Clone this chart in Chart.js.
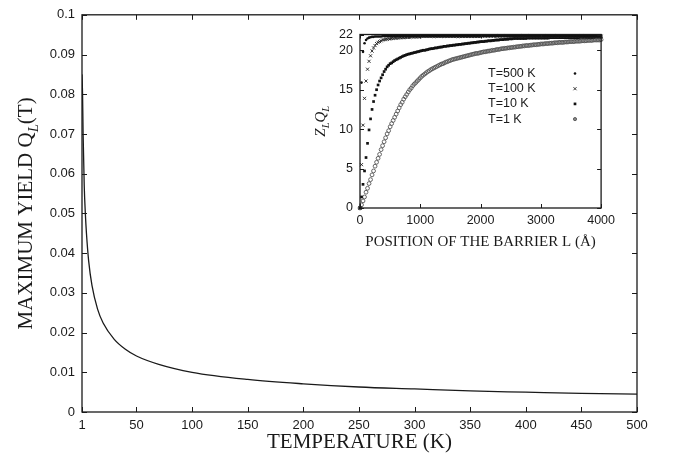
<!DOCTYPE html>
<html>
<head>
<meta charset="utf-8">
<script src="https://cdn.jsdelivr.net/npm/chart.js@4.4.0/dist/chart.umd.min.js"></script>
<style>
    html, body { margin: 0; padding: 0; background: #fff; }
    #wrap { position: relative; width: 675px; height: 457px; }
    #mainChart { position: absolute; left: 0; top: 0; }
    #insetChart { position: absolute; left: 300px; top: 20px; }
</style>
</head>
<body>
<div id="wrap">
    <canvas id="mainChart" width="675" height="457"></canvas>
    <canvas id="insetChart" width="320" height="240"></canvas>
</div>
<script>
// Curva principal: rendimento máximo em função da temperatura
const temperature = [1, 1.5, 2, 3, 4, 5, 7, 10, 15, 20, 30, 40, 50, 70, 100, 150, 200, 250, 300, 350, 400, 450, 500];
const maxYield = [0.085, 0.08, 0.07, 0.057, 0.05, 0.045, 0.038, 0.0318, 0.0259, 0.0224, 0.0183, 0.0158, 0.0141, 0.012,
    0.01, 0.0082, 0.0071, 0.0063, 0.0058, 0.0053, 0.005, 0.0047, 0.0045];
const tempTicks = [1, 50, 100, 150, 200, 250, 300, 350, 400, 450, 500];
const yieldTicks = [0, 0.01, 0.02, 0.03, 0.04, 0.05, 0.06, 0.07, 0.08, 0.09, 0.1];

// Gráfico inserido: Z_L Q_L em função da posição da barreira L (passo de 25 Å)
const insetLabels = ['T=500 K', 'T=100 K', 'T=10 K', 'T=1 K'];
const positionTicks = [0, 1000, 2000, 3000, 4000];
const zqTicks = [0, 5, 10, 15, 20, 22];
const positionL = [];
for (let L = 0; L <= 4000; L += 25) positionL.push(L);

const zq500K = [0,
    15.9, 19.8, 20.9, 21.3, 21.5, 21.6, 21.65, 21.7, 21.7, 21.75, 21.75, 21.75, 21.75, 21.75, 21.8, 21.8, 21.8, 21.8, 21.8, 21.8,
    21.8, 21.8, 21.8, 21.8, 21.8, 21.8, 21.8, 21.8, 21.8, 21.8, 21.8, 21.8, 21.8, 21.8, 21.8, 21.8, 21.8, 21.8, 21.8, 21.8,
    21.85, 21.85, 21.85, 21.85, 21.85, 21.85, 21.85, 21.85, 21.85, 21.85, 21.85, 21.85, 21.85, 21.85, 21.85, 21.85, 21.85, 21.85, 21.85, 21.85,
    21.85, 21.85, 21.85, 21.85, 21.85, 21.85, 21.85, 21.85, 21.85, 21.85, 21.85, 21.85, 21.85, 21.85, 21.85, 21.85, 21.85, 21.85, 21.85, 21.85,
    21.85, 21.85, 21.85, 21.85, 21.85, 21.85, 21.85, 21.85, 21.85, 21.85, 21.85, 21.85, 21.85, 21.85, 21.85, 21.85, 21.85, 21.85, 21.85, 21.85,
    21.85, 21.85, 21.85, 21.85, 21.85, 21.85, 21.85, 21.85, 21.85, 21.85, 21.85, 21.85, 21.85, 21.85, 21.85, 21.85, 21.85, 21.85, 21.85, 21.85,
    21.85, 21.85, 21.85, 21.85, 21.85, 21.85, 21.85, 21.85, 21.85, 21.85, 21.85, 21.85, 21.85, 21.85, 21.85, 21.85, 21.85, 21.85, 21.85, 21.85,
    21.85, 21.85, 21.85, 21.85, 21.85, 21.85, 21.85, 21.85, 21.85, 21.85, 21.85, 21.85, 21.85, 21.85, 21.85, 21.85, 21.85, 21.85, 21.85, 21.85];

const zq100K = [0,
    5.5, 10.5, 13.9, 16.1, 17.6, 18.6, 19.3, 19.9, 20.3, 20.6, 20.85, 21.0, 21.1, 21.2, 21.3, 21.35, 21.4, 21.4, 21.45, 21.45,
    21.5, 21.5, 21.55, 21.55, 21.55, 21.6, 21.6, 21.6, 21.6, 21.65, 21.65, 21.65, 21.65, 21.7, 21.7, 21.7, 21.7, 21.7, 21.7, 21.75,
    21.75, 21.75, 21.75, 21.75, 21.75, 21.75, 21.75, 21.75, 21.75, 21.75, 21.75, 21.75, 21.75, 21.75, 21.75, 21.75, 21.75, 21.75, 21.75, 21.75,
    21.75, 21.75, 21.75, 21.75, 21.75, 21.75, 21.75, 21.75, 21.75, 21.75, 21.75, 21.75, 21.75, 21.75, 21.75, 21.75, 21.75, 21.75, 21.75, 21.75,
    21.8, 21.8, 21.8, 21.8, 21.8, 21.8, 21.8, 21.8, 21.8, 21.8, 21.8, 21.8, 21.8, 21.8, 21.8, 21.8, 21.8, 21.8, 21.8, 21.8,
    21.8, 21.8, 21.8, 21.8, 21.8, 21.8, 21.8, 21.8, 21.8, 21.8, 21.8, 21.8, 21.8, 21.8, 21.8, 21.8, 21.8, 21.8, 21.8, 21.8,
    21.8, 21.8, 21.8, 21.8, 21.8, 21.8, 21.8, 21.8, 21.8, 21.8, 21.8, 21.8, 21.8, 21.8, 21.8, 21.8, 21.8, 21.8, 21.8, 21.8,
    21.8, 21.8, 21.8, 21.8, 21.8, 21.8, 21.8, 21.8, 21.8, 21.8, 21.8, 21.8, 21.8, 21.8, 21.8, 21.8, 21.8, 21.8, 21.8, 21.8];

const zq10K = [0,
    1.4, 3.0, 4.7, 6.4, 8.2, 9.9, 11.3, 12.5, 13.5, 14.3, 15.0, 15.6, 16.1, 16.5, 16.9, 17.3, 17.6, 17.9, 18.1, 18.3,
    18.4, 18.55, 18.7, 18.8, 18.9, 19.0, 19.1, 19.2, 19.3, 19.35, 19.45, 19.5, 19.55, 19.6, 19.65, 19.7, 19.75, 19.8, 19.85, 19.9,
    19.95, 20.0, 20.0, 20.05, 20.1, 20.15, 20.2, 20.2, 20.25, 20.3, 20.3, 20.35, 20.4, 20.4, 20.45, 20.5, 20.5, 20.55, 20.55, 20.6,
    20.6, 20.65, 20.65, 20.7, 20.7, 20.75, 20.75, 20.8, 20.8, 20.85, 20.85, 20.9, 20.9, 20.95, 20.95, 21.0, 21.0, 21.05, 21.05, 21.1,
    21.1, 21.1, 21.15, 21.15, 21.2, 21.2, 21.2, 21.25, 21.25, 21.3, 21.3, 21.3, 21.35, 21.35, 21.35, 21.4, 21.4, 21.4, 21.45, 21.45,
    21.45, 21.5, 21.5, 21.5, 21.5, 21.5, 21.5, 21.5, 21.5, 21.5, 21.55, 21.55, 21.55, 21.55, 21.55, 21.55, 21.55, 21.55, 21.55, 21.55,
    21.55, 21.55, 21.55, 21.55, 21.55, 21.6, 21.6, 21.6, 21.6, 21.6, 21.6, 21.6, 21.6, 21.6, 21.6, 21.6, 21.6, 21.6, 21.6, 21.6,
    21.6, 21.6, 21.6, 21.6, 21.6, 21.65, 21.65, 21.65, 21.65, 21.65, 21.65, 21.65, 21.65, 21.65, 21.65, 21.7, 21.7, 21.7, 21.7, 21.7];

const zq1K = [0,
    0.4, 0.9, 1.4, 2.0, 2.5, 3.1, 3.6, 4.2, 4.7, 5.3, 5.8, 6.3, 6.8, 7.4, 7.9, 8.4, 8.9, 9.4, 9.8, 10.3,
    10.7, 11.1, 11.5, 11.9, 12.3, 12.7, 13.1, 13.4, 13.8, 14.1, 14.4, 14.7, 15.0, 15.2, 15.5, 15.7, 15.9, 16.1, 16.3, 16.5,
    16.7, 16.85, 17.0, 17.15, 17.3, 17.4, 17.55, 17.65, 17.75, 17.85, 17.95, 18.05, 18.15, 18.25, 18.3, 18.4, 18.5, 18.55, 18.65, 18.7,
    18.8, 18.85, 18.9, 18.95, 19.0, 19.05, 19.1, 19.15, 19.2, 19.25, 19.3, 19.35, 19.4, 19.45, 19.5, 19.55, 19.6, 19.6, 19.65, 19.7,
    19.75, 19.8, 19.8, 19.85, 19.9, 19.9, 19.95, 20.0, 20.0, 20.05, 20.1, 20.1, 20.15, 20.2, 20.2, 20.25, 20.25, 20.3, 20.3, 20.35,
    20.35, 20.4, 20.4, 20.45, 20.45, 20.5, 20.5, 20.55, 20.55, 20.6, 20.6, 20.6, 20.65, 20.65, 20.7, 20.7, 20.7, 20.75, 20.75, 20.8,
    20.8, 20.8, 20.85, 20.85, 20.85, 20.9, 20.9, 20.9, 20.95, 20.95, 20.95, 21.0, 21.0, 21.0, 21.0, 21.05, 21.05, 21.05, 21.1, 21.1,
    21.1, 21.1, 21.15, 21.15, 21.15, 21.15, 21.2, 21.2, 21.2, 21.2, 21.25, 21.25, 21.25, 21.25, 21.3, 21.3, 21.3, 21.3, 21.3, 21.35];

const SANS = '"Liberation Sans", Arial, sans-serif';
const SERIF = '"Liberation Serif", "Times New Roman", serif';
const INK = '#1a1a1a';

// Moldura com marcas de escala para dentro (estilo gnuplot), também no topo e à direita
function frameTicks(len) {
    return {
        id: 'frameTicks',
        afterDatasetsDraw(chart) {
            const { ctx, chartArea: a, scales: { x, y } } = chart;
            ctx.save();
            ctx.strokeStyle = INK;
            ctx.lineWidth = 1;
            ctx.beginPath();
            x.ticks.forEach(t => {
                const px = Math.round(x.getPixelForValue(t.value)) + 0.5;
                ctx.moveTo(px, a.bottom); ctx.lineTo(px, a.bottom - len);
                ctx.moveTo(px, a.top); ctx.lineTo(px, a.top + len);
            });
            y.ticks.forEach(t => {
                const py = Math.round(y.getPixelForValue(t.value)) + 0.5;
                ctx.moveTo(a.left, py); ctx.lineTo(a.left + len, py);
                ctx.moveTo(a.right, py); ctx.lineTo(a.right - len, py);
            });
            ctx.stroke();
            ctx.lineWidth = 1.3;
            ctx.strokeRect(a.left, a.top, a.right - a.left, a.bottom - a.top);
            ctx.restore();
        }
    };
}

// Desenha texto com subscritos/itálico, centrado em (x, y)
function drawRich(ctx, parts, x, y, rotate, size) {
    const fontFor = p => `${p.italic ? 'italic ' : ''}${p.sub ? size * 0.7 : size}px ${SERIF}`;
    ctx.save();
    ctx.translate(x, y);
    if (rotate) ctx.rotate(-Math.PI / 2);
    ctx.fillStyle = INK;
    ctx.textBaseline = 'alphabetic';
    let total = 0;
    parts.forEach(p => { ctx.font = fontFor(p); total += ctx.measureText(p.text).width; });
    let cx = -total / 2;
    parts.forEach(p => {
        ctx.font = fontFor(p);
        ctx.fillText(p.text, cx, p.sub ? size * 0.28 : 0);
        cx += ctx.measureText(p.text).width;
    });
    ctx.restore();
}

function axisTitles(spec) {
    return {
        id: 'axisTitles',
        afterDraw(chart) {
            const a = chart.chartArea;
            drawRich(chart.ctx, spec.x, (a.left + a.right) / 2, spec.xBase, false, spec.size);
            drawRich(chart.ctx, spec.y, spec.yBase, (a.top + a.bottom) / 2, true, spec.size);
        }
    };
}

function tickFont(size) {
    return { color: INK, font: { family: SANS, size: size }, autoSkip: false, maxRotation: 0 };
}

// Gráfico principal
new Chart(document.getElementById('mainChart'), {
    type: 'line',
    data: {
        datasets: [{
            data: temperature.map((t, i) => ({ x: t, y: maxYield[i] })),
            borderColor: INK,
            borderWidth: 1.3,
            pointRadius: 0,
            cubicInterpolationMode: 'monotone',
            fill: false
        }]
    },
    options: {
        responsive: false,
        animation: false,
        devicePixelRatio: 1,
        layout: { padding: { left: 0, top: 11, right: 38, bottom: 0 } },
        plugins: { legend: { display: false }, tooltip: { enabled: false } },
        scales: {
            x: {
                type: 'linear', min: 1, max: 500,
                grid: { display: false, drawTicks: false },
                border: { display: false },
                afterBuildTicks: s => { s.ticks = tempTicks.map(v => ({ value: v })); },
                afterFit: s => { s.height = 45; },
                ticks: { ...tickFont(13), padding: 6, callback: v => String(v) }
            },
            y: {
                type: 'linear', min: 0, max: 0.1,
                grid: { display: false, drawTicks: false },
                border: { display: false },
                afterBuildTicks: s => { s.ticks = yieldTicks.map(v => ({ value: v })); },
                afterFit: s => { s.width = 82; },
                ticks: { ...tickFont(13), padding: 7, callback: v => String(+v.toFixed(2)) }
            }
        }
    },
    plugins: [frameTicks(5), axisTitles({
        size: 21,
        x: [{ text: 'TEMPERATURE (K)' }],
        xBase: 448,
        y: [{ text: 'MAXIMUM YIELD Q' }, { text: 'L', italic: true, sub: true }, { text: '(T)' }],
        yBase: 32
    })]
});

// Estilos dos marcadores do gráfico inserido
const markerStyles = [
    { pointStyle: 'circle', pointRadius: 1.3, pointBackgroundColor: '#111', pointBorderColor: '#111', pointBorderWidth: 0 },
    { pointStyle: 'crossRot', pointRadius: 2.2, pointBackgroundColor: '#222', pointBorderColor: '#222', pointBorderWidth: 0.9 },
    { pointStyle: 'rect', pointRadius: 1.9, pointBackgroundColor: '#111', pointBorderColor: '#111', pointBorderWidth: 0 },
    { pointStyle: 'circle', pointRadius: 1.9, pointBackgroundColor: 'rgba(255,255,255,0)', pointBorderColor: '#555', pointBorderWidth: 0.9 }
];
const insetSeries = [zq500K, zq100K, zq10K, zq1K];

const insetLegend = {
    id: 'insetLegend',
    afterDraw(chart) {
        const ctx = chart.ctx;
        ctx.save();
        ctx.textBaseline = 'middle';
        chart.data.datasets.forEach((ds, i) => {
            const y = 53.5 + i * 15.2;
            ctx.font = `12.5px ${SANS}`;
            ctx.fillStyle = INK;
            ctx.fillText(ds.label, 188, y);
            const hollow = ds.pointBackgroundColor === 'rgba(255,255,255,0)';
            ctx.fillStyle = hollow ? '#888' : ds.pointBackgroundColor;
            ctx.strokeStyle = ds.pointBorderColor;
            ctx.lineWidth = ds.pointBorderWidth;
            Chart.helpers.drawPoint(ctx, {
                pointStyle: ds.pointStyle,
                radius: hollow ? 1.6 : ds.pointRadius,
                borderWidth: ds.pointBorderWidth,
                rotation: 0
            }, 275, y);
        });
        ctx.restore();
    }
};

new Chart(document.getElementById('insetChart'), {
    type: 'scatter',
    data: {
        datasets: insetSeries.map((vals, i) => ({
            label: insetLabels[i],
            data: positionL.map((L, j) => ({ x: L, y: vals[j] })),
            showLine: false,
            clip: false,
            ...markerStyles[i]
        }))
    },
    options: {
        responsive: false,
        animation: false,
        devicePixelRatio: 1,
        layout: { padding: { left: 0, top: 13.5, right: 13, bottom: 0 } },
        plugins: { legend: { display: false }, tooltip: { enabled: false } },
        scales: {
            x: {
                type: 'linear', min: 0, max: 4000,
                grid: { display: false, drawTicks: false },
                border: { display: false },
                afterBuildTicks: s => { s.ticks = positionTicks.map(v => ({ value: v })); },
                afterFit: s => { s.height = 52; },
                ticks: { ...tickFont(12.5), padding: 5, callback: v => String(v) }
            },
            y: {
                type: 'linear', min: 0, max: 22,
                grid: { display: false, drawTicks: false },
                border: { display: false },
                afterBuildTicks: s => { s.ticks = zqTicks.map(v => ({ value: v })); },
                afterFit: s => { s.width = 60; },
                ticks: { ...tickFont(12.5), padding: 7, callback: v => String(v) }
            }
        }
    },
    plugins: [frameTicks(4), axisTitles({
        size: 15,
        x: [{ text: 'POSITION OF THE BARRIER L (Å)' }],
        xBase: 226,
        y: [{ text: 'Z', italic: true }, { text: 'L', italic: true, sub: true },
            { text: 'Q', italic: true }, { text: 'L', italic: true, sub: true }],
        yBase: 25
    }), insetLegend]
});
</script>
</body>
</html>
